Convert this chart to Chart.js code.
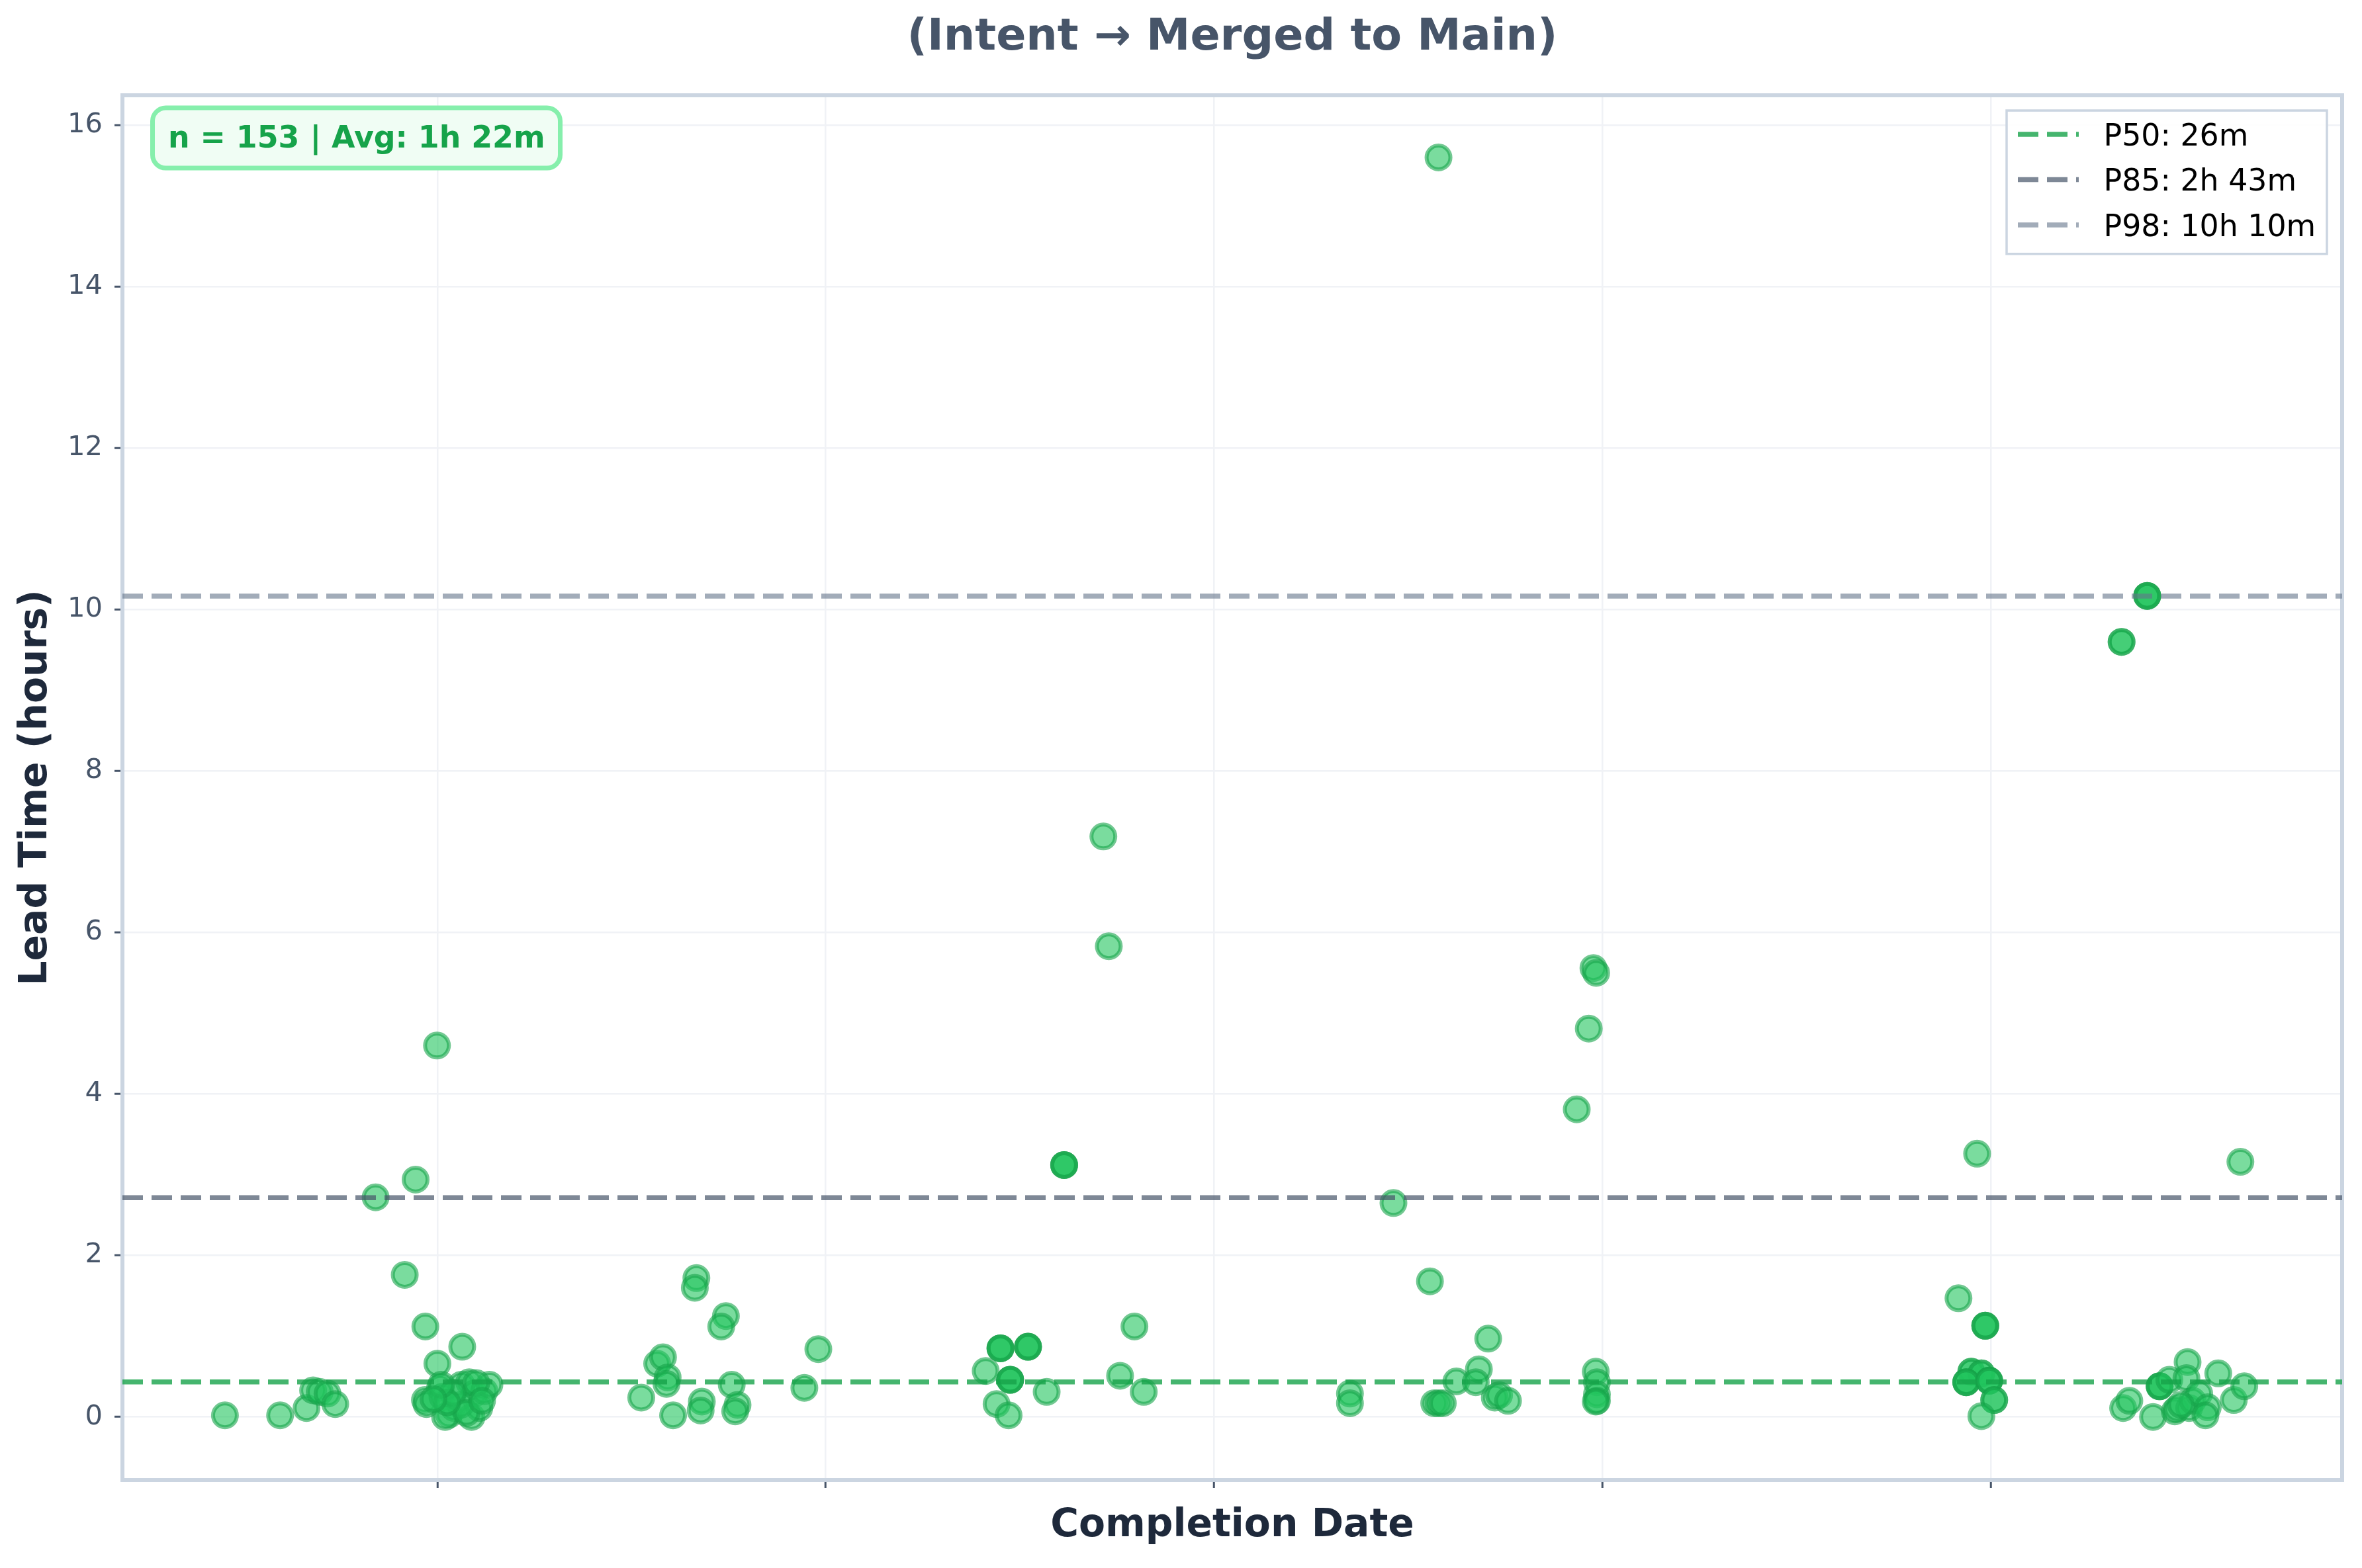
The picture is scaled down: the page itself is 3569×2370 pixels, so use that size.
<!DOCTYPE html>
<html>
<head>
<meta charset="utf-8">
<script src="https://cdn.jsdelivr.net/npm/chart.js@4.4.1/dist/chart.umd.min.js"></script>
<style>
  html, body { margin: 0; padding: 0; background: #ffffff; }
  #wrap { width: 3569px; height: 2370px; position: relative; }
</style>
</head>
<body>
<div id="wrap"><canvas id="c"></canvas></div>
<script>
// ---------------- DATA ----------------
const chartTitle = '(Intent → Merged to Main)';
const xTitle = 'Completion Date';
const yTitle = 'Lead Time (hours)';
const statsText = 'n = 153 | Avg: 1h 22m';

// x position of each completed item, in weeks relative to the first (unlabelled) date tick
const completionWeek = [
  -0.547,-0.405,-0.337,-0.320,-0.303,-0.283,-0.263,-0.159,-0.084,-0.056,-0.031,-0.001,0.000,0.064,-0.032,-0.028,0.007,0.013,
  0.030,0.043,0.062,0.082,0.095,0.088,0.108,0.121,0.134,0.060,0.020,0.040,0.075,0.100,0.025,0.115,0.010,-0.010,
  0.525,0.566,0.581,0.593,0.590,0.607,0.667,0.663,0.681,0.678,0.743,0.731,0.758,0.773,0.767,0.945,0.981,
  1.412,1.440,1.450,1.450,1.450,1.471,1.475,1.475,1.475,1.521,1.521,1.521,1.569,1.614,1.614,1.614,1.715,1.729,1.758,1.795,1.819,
  2.350,2.350,2.462,2.556,2.578,2.567,2.578,2.589,2.624,2.682,2.674,2.706,2.723,2.734,2.757,2.934,2.965,2.977,2.984,2.983,2.986,2.986,2.986,2.983,
  3.917,3.965,3.986,3.986,3.986,3.950,3.950,3.976,3.976,3.937,3.937,3.937,3.996,3.996,3.996,4.009,4.009,3.976,
  4.337,4.337,4.403,4.403,4.403,4.643,4.341,4.357,4.418,4.435,4.435,4.435,4.460,4.507,4.504,4.474,4.480,4.511,4.520,4.537,4.559,4.553,4.586,4.626,4.653,4.490
];
// lead time in hours for each item (same order)
const leadTimeHours = [
  0.02,0.02,0.11,0.33,0.31,0.29,0.16,2.72,1.76,2.94,1.12,4.60,0.66,0.87,0.21,0.16,0.36,0.25,
  0.03,0.11,0.40,0.43,0.29,0.00,0.11,0.32,0.40,0.15,0.00,0.30,0.05,0.42,0.18,0.20,0.40,0.22,
  0.24,0.66,0.74,0.49,0.41,0.02,1.72,1.60,0.19,0.08,1.25,1.12,0.40,0.15,0.07,0.36,0.84,
  0.57,0.16,0.85,0.85,0.85,0.02,0.46,0.46,0.46,0.87,0.87,0.87,0.31,3.12,3.12,3.12,7.19,5.83,0.51,1.12,0.31,
  0.29,0.17,2.65,1.68,15.60,0.17,0.17,0.17,0.44,0.59,0.43,0.97,0.24,0.27,0.20,3.81,4.81,5.56,5.50,0.56,0.43,0.28,0.20,0.19,
  1.47,3.26,1.13,1.13,1.13,0.56,0.56,0.54,0.54,0.43,0.43,0.43,0.45,0.45,0.45,0.21,0.21,0.01,
  9.60,9.60,10.17,10.17,10.17,3.16,0.11,0.20,0.00,0.38,0.38,0.38,0.46,0.68,0.48,0.07,0.10,0.11,0.20,0.29,0.12,0.02,0.54,0.21,0.38,0.15
];

const percentileLabels = ['P50: 26m', 'P85: 2h 43m', 'P98: 10h 10m'];
const percentileHours  = [0.4333, 2.7167, 10.1667];

const xTickValues = [0, 1, 2, 3, 4];
const yTickValues = [0, 2, 4, 6, 8, 10, 12, 14, 16];
const xRange = [-0.811, 4.905];
const yRange = [-0.781, 16.37];

// ---------------- STYLE ----------------
const percentileColors = ['rgba(22,163,74,0.8)', 'rgba(71,85,105,0.7)', 'rgba(100,116,139,0.6)'];
const FONT = "'DejaVu Sans', 'Liberation Sans', sans-serif";
Chart.defaults.font.family = FONT;

const points = completionWeek.map((w, i) => ({ x: w, y: leadTimeHours[i] }));

const lineSets = percentileLabels.map((lab, i) => ({
  type: 'line',
  label: lab,
  data: [{ x: xRange[0], y: percentileHours[i] }, { x: xRange[1], y: percentileHours[i] }],
  borderColor: percentileColors[i],
  borderWidth: 7.5,
  borderDash: [31, 13],
  pointRadius: 0,
  showLine: true,
  fill: false,
  tension: 0,
  order: 0
}));

const overlay = {
  id: 'overlay',
  beforeDatasetsDraw(chart) {
    const { ctx, chartArea: a } = chart;
    ctx.save();
    ctx.strokeStyle = '#cbd5e1';
    ctx.lineWidth = 6;
    ctx.strokeRect(a.left, a.top, a.right - a.left, a.bottom - a.top);
    ctx.restore();
  },
  afterDraw(chart) {
    const { ctx, chartArea: a } = chart;
    ctx.save();
    // stats box
    const bx = a.left + 45.5, by = a.top + 19, bw = 616, bh = 91, r = 20;
    ctx.beginPath();
    ctx.moveTo(bx + r, by);
    ctx.lineTo(bx + bw - r, by);
    ctx.arcTo(bx + bw, by, bx + bw, by + r, r);
    ctx.lineTo(bx + bw, by + bh - r);
    ctx.arcTo(bx + bw, by + bh, bx + bw - r, by + bh, r);
    ctx.lineTo(bx + r, by + bh);
    ctx.arcTo(bx, by + bh, bx, by + bh - r, r);
    ctx.lineTo(bx, by + r);
    ctx.arcTo(bx, by, bx + r, by, r);
    ctx.closePath();
    ctx.fillStyle = '#f0fdf4';
    ctx.fill();
    ctx.strokeStyle = '#86efac';
    ctx.lineWidth = 7;
    ctx.stroke();
    ctx.fillStyle = '#16a34a';
    ctx.font = 'bold 45.8px ' + FONT;
    ctx.textAlign = 'left';
    ctx.textBaseline = 'alphabetic';
    ctx.fillText(statsText, bx + 23.5, by + 59.5);

    // legend
    const lw = 484, lh = 216.7;
    const lx = a.right - 23 - lw, ly = a.top + 23;
    ctx.fillStyle = 'rgba(255,255,255,0.9)';
    ctx.fillRect(lx, ly, lw, lh);
    ctx.strokeStyle = '#cbd5e1';
    ctx.lineWidth = 3.5;
    ctx.strokeRect(lx, ly, lw, lh);
    ctx.font = '45.8px ' + FONT;
    percentileLabels.forEach((lab, i) => {
      const cy = ly + 36 + i * 68.5;
      ctx.beginPath();
      ctx.setLineDash([31, 13]);
      ctx.strokeStyle = percentileColors[i];
      ctx.lineWidth = 7.5;
      ctx.moveTo(lx + 17, cy);
      ctx.lineTo(lx + 109, cy);
      ctx.stroke();
      ctx.setLineDash([]);
      ctx.fillStyle = '#000000';
      ctx.fillText(lab, lx + 146.6, cy + 16.7);
    });
    ctx.restore();
  }
};

new Chart(document.getElementById('c'), {
  type: 'scatter',
  data: {
    datasets: [
      ...lineSets,
      {
        label: 'Lead time',
        data: points,
        pointRadius: 18,
        pointBorderWidth: 6,
        borderWidth: 6,
        backgroundColor: 'rgba(34,197,94,0.6)',
        borderColor: 'rgba(22,163,74,0.6)',
        pointBackgroundColor: 'rgba(34,197,94,0.6)',
        pointBorderColor: 'rgba(22,163,74,0.6)',
        order: 1
      }
    ]
  },
  options: {
    responsive: true,
    maintainAspectRatio: false,
    animation: false,
    devicePixelRatio: 1,
    events: [],
    layout: { padding: { left: 0, right: 30, top: 0, bottom: 0 } },
    plugins: {
      legend: { display: false },
      tooltip: { enabled: false },
      title: {
        display: true, text: chartTitle, fullSize: false, color: '#475569',
        font: { size: 66.7, weight: 'bold', lineHeight: 1.2 },
        padding: { top: 18, bottom: 46 }
      }
    },
    scales: {
      x: {
        type: 'linear', position: 'bottom', min: xRange[0], max: xRange[1],
        afterBuildTicks(s) { s.ticks = xTickValues.map(v => ({ value: v })); },
        afterFit(s) { s.height = 133; },
        ticks: { callback: () => '', padding: 0, autoSkip: false, maxRotation: 0 },
        grid: { color: '#f0f2f6', lineWidth: 2.5, drawTicks: true, tickLength: 12, tickWidth: 3, tickColor: '#475569' },
        border: { display: false },
        title: { display: true, text: xTitle, color: '#1e293b', font: { size: 58.3, weight: 'bold', lineHeight: 1.2 }, padding: { top: 0, bottom: 28 } }
      },
      y: {
        type: 'linear', position: 'left', min: yRange[0], max: yRange[1],
        afterBuildTicks(s) { s.ticks = yTickValues.map(v => ({ value: v })); },
        afterFit(s) { s.width = 185; },
        ticks: { color: '#475569', font: { size: 41.7 }, padding: 18, autoSkip: false, callback: v => String(v) },
        grid: { color: '#f0f2f6', lineWidth: 2.5, drawTicks: true, tickLength: 12, tickWidth: 3, tickColor: '#475569' },
        border: { display: false },
        title: { display: true, text: yTitle, color: '#1e293b', font: { size: 58.3, weight: 'bold', lineHeight: 1.2 }, padding: { top: 20, bottom: 0 } }
      }
    }
  },
  plugins: [overlay]
});
</script>
</body>
</html>
